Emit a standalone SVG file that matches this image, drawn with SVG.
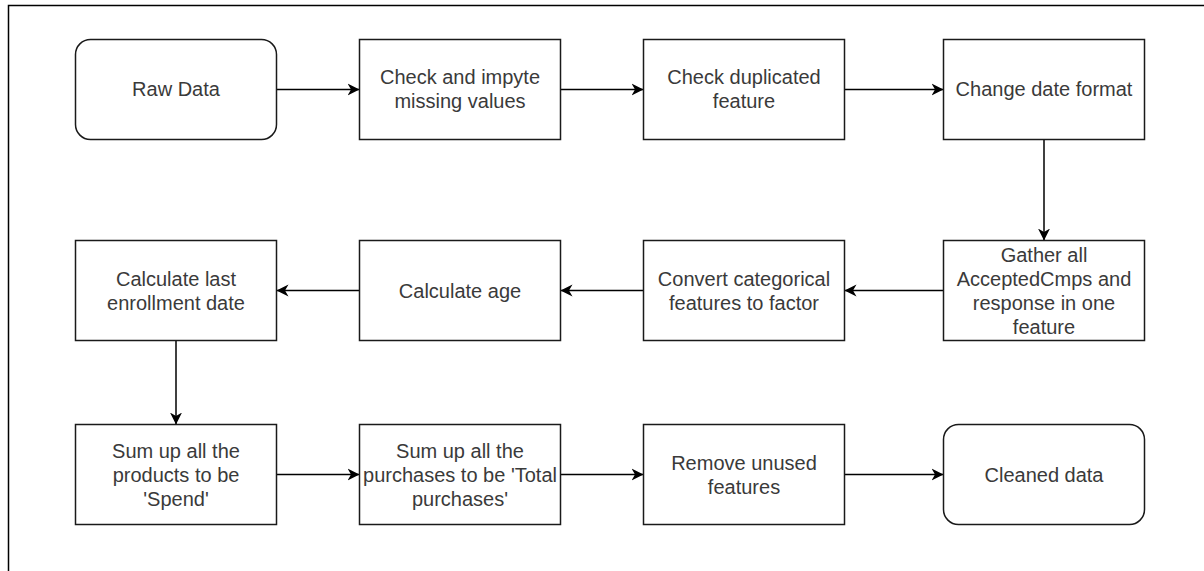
<svg xmlns="http://www.w3.org/2000/svg" width="1204" height="571" viewBox="0 0 1204 571">
<style>
.box{fill:#fff;stroke:#1a1a1a;stroke-width:1.5}
.lbl{font-family:"Liberation Sans",Arial,sans-serif;font-size:20px;fill:#3a3a3a;text-anchor:middle}
.edge{fill:none;stroke:#000;stroke-width:1.5}
</style>
<defs>
<marker id="arr" markerUnits="userSpaceOnUse" markerWidth="14" markerHeight="14" viewBox="0 -7 14 14" refX="12" refY="0" orient="auto">
<path d="M0,-6 L12,0 L0,6 L3.5,0 Z" fill="#000"/>
</marker>
</defs>
<rect width="1204" height="571" fill="#fff"/>
<path d="M8.5,571 V5.5 H1204" fill="none" stroke="#000" stroke-width="1.5"/>
<g id="connectors">
<path class="edge" d="M276.5,89.5 H359.5" marker-end="url(#arr)"/>
<path class="edge" d="M560.5,89.5 H643.5" marker-end="url(#arr)"/>
<path class="edge" d="M844.5,89.5 H943.5" marker-end="url(#arr)"/>
<path class="edge" d="M1044,139.5 V240.5" marker-end="url(#arr)"/>
<path class="edge" d="M943.5,290.5 H844.5" marker-end="url(#arr)"/>
<path class="edge" d="M643.5,290.5 H560.5" marker-end="url(#arr)"/>
<path class="edge" d="M359.5,290.5 H276.5" marker-end="url(#arr)"/>
<path class="edge" d="M176,340.5 V424.5" marker-end="url(#arr)"/>
<path class="edge" d="M276.5,474.5 H359.5" marker-end="url(#arr)"/>
<path class="edge" d="M560.5,474.5 H643.5" marker-end="url(#arr)"/>
<path class="edge" d="M844.5,474.5 H943.5" marker-end="url(#arr)"/>
</g>
<g id="raw-data">
<rect class="box" x="75.5" y="39.5" width="201" height="100" rx="15"/>
<text class="lbl" x="176" y="96">Raw Data</text>
</g>
<g id="check-impute">
<rect class="box" x="359.5" y="39.5" width="201" height="100"/>
<text class="lbl" x="460" y="84">Check and impyte</text>
<text class="lbl" x="460" y="108">missing values</text>
</g>
<g id="check-duplicated">
<rect class="box" x="643.5" y="39.5" width="201" height="100"/>
<text class="lbl" x="744" y="84">Check duplicated</text>
<text class="lbl" x="744" y="108">feature</text>
</g>
<g id="change-date">
<rect class="box" x="943.5" y="39.5" width="201" height="100"/>
<text class="lbl" x="1044" y="96">Change date format</text>
</g>
<g id="gather">
<rect class="box" x="943.5" y="240.5" width="201" height="100"/>
<text class="lbl" x="1044" y="261.5">Gather all</text>
<text class="lbl" x="1044" y="285.5">AcceptedCmps and</text>
<text class="lbl" x="1044" y="309.5">response in one</text>
<text class="lbl" x="1044" y="333.5">feature</text>
</g>
<g id="convert-categorical">
<rect class="box" x="643.5" y="240.5" width="201" height="100"/>
<text class="lbl" x="744" y="285.5">Convert categorical</text>
<text class="lbl" x="744" y="309.5">features to factor</text>
</g>
<g id="calc-age">
<rect class="box" x="359.5" y="240.5" width="201" height="100"/>
<text class="lbl" x="460" y="297.5">Calculate age</text>
</g>
<g id="calc-enrollment">
<rect class="box" x="75.5" y="240.5" width="201" height="100"/>
<text class="lbl" x="176" y="285.5">Calculate last</text>
<text class="lbl" x="176" y="309.5">enrollment date</text>
</g>
<g id="sum-spend">
<rect class="box" x="75.5" y="424.5" width="201" height="100"/>
<text class="lbl" x="176" y="457.5">Sum up all the</text>
<text class="lbl" x="176" y="481.5">products to be</text>
<text class="lbl" x="176" y="505.5">'Spend'</text>
</g>
<g id="sum-purchases">
<rect class="box" x="359.5" y="424.5" width="201" height="100"/>
<text class="lbl" x="460" y="457.5">Sum up all the</text>
<text class="lbl" x="460" y="481.5">purchases to be 'Total</text>
<text class="lbl" x="460" y="505.5">purchases'</text>
</g>
<g id="remove-unused">
<rect class="box" x="643.5" y="424.5" width="201" height="100"/>
<text class="lbl" x="744" y="469.5">Remove unused</text>
<text class="lbl" x="744" y="493.5">features</text>
</g>
<g id="cleaned-data">
<rect class="box" x="943.5" y="424.5" width="201" height="100" rx="15"/>
<text class="lbl" x="1044" y="481.5">Cleaned data</text>
</g>
</svg>
